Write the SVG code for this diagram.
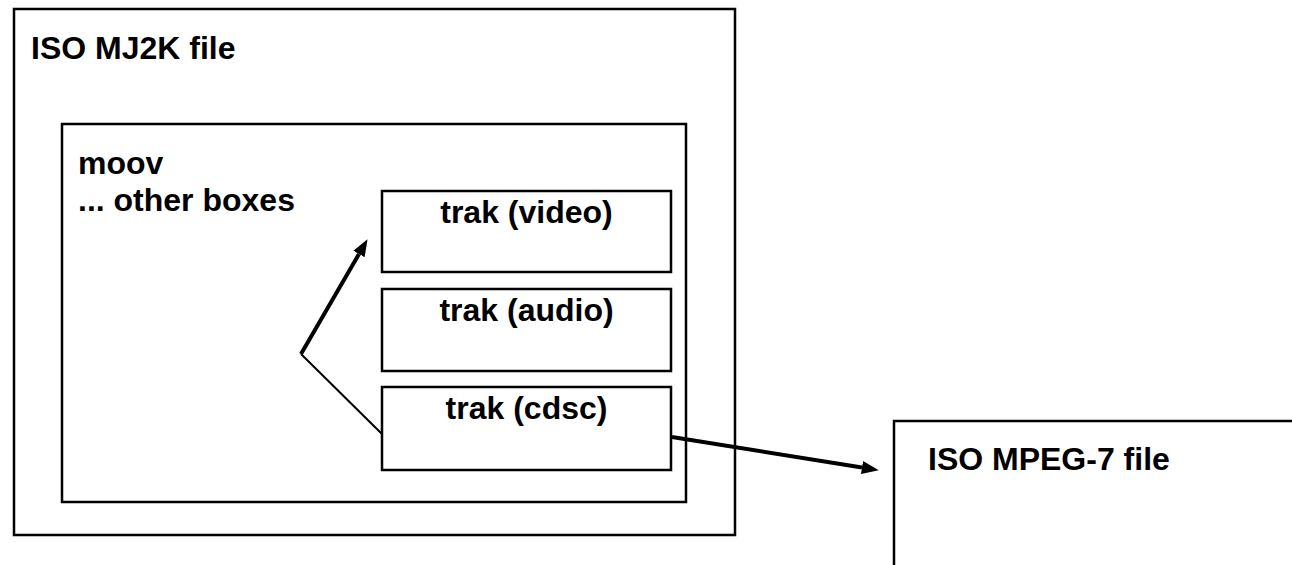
<svg xmlns="http://www.w3.org/2000/svg" width="1292" height="565" viewBox="0 0 1292 565">
  <style>
    .box { fill: #ffffff; stroke: #000000; stroke-width: 2.5; }
    .lbl { font-family: "Liberation Sans", Arial, sans-serif; font-weight: bold; font-size: 32px; fill: #000000; }
    .mid { text-anchor: middle; }
    .thick { stroke: #000000; stroke-width: 4; fill: none; }
    .thin { stroke: #000000; stroke-width: 2; fill: none; }
  </style>
  <defs>
    <marker id="arrow" markerUnits="userSpaceOnUse" markerWidth="17" markerHeight="14" viewBox="0 -7 17 14" refX="0" refY="0" orient="auto">
      <path d="M0,-6.5 L17,0 L0,6.5 z" fill="#000000"/>
    </marker>
  </defs>

  <rect width="1292" height="565" fill="#ffffff"/>

  <g id="mj2k-file">
    <rect class="box" x="14" y="9" width="721" height="526"/>
    <text class="lbl" x="31" y="59">ISO MJ2K file</text>
  </g>

  <g id="moov">
    <rect class="box" x="62" y="124" width="624" height="378"/>
    <text class="lbl" x="78" y="174">moov</text>
    <text class="lbl" x="78" y="211">... other boxes</text>
  </g>

  <g id="trak-video">
    <rect class="box" x="382" y="191" width="289" height="81"/>
    <text class="lbl mid" x="526.5" y="222.5">trak (video)</text>
  </g>

  <g id="trak-audio">
    <rect class="box" x="382" y="289" width="289" height="82"/>
    <text class="lbl mid" x="526.5" y="321">trak (audio)</text>
  </g>

  <g id="trak-cdsc">
    <rect class="box" x="382" y="387" width="289" height="83"/>
    <text class="lbl mid" x="526.5" y="419">trak (cdsc)</text>
  </g>

  <g id="mpeg7-file">
    <rect class="box" x="894" y="421" width="500" height="200"/>
    <text class="lbl" x="928" y="470">ISO MPEG-7 file</text>
  </g>

  <g id="connectors">
    <line class="thin" x1="382" y1="434" x2="301" y2="354"/>
    <line class="thick" x1="301" y1="354" x2="359" y2="254" marker-end="url(#arrow)"/>
    <line class="thick" x1="672" y1="437" x2="862" y2="467.5" marker-end="url(#arrow)"/>
  </g>
</svg>
